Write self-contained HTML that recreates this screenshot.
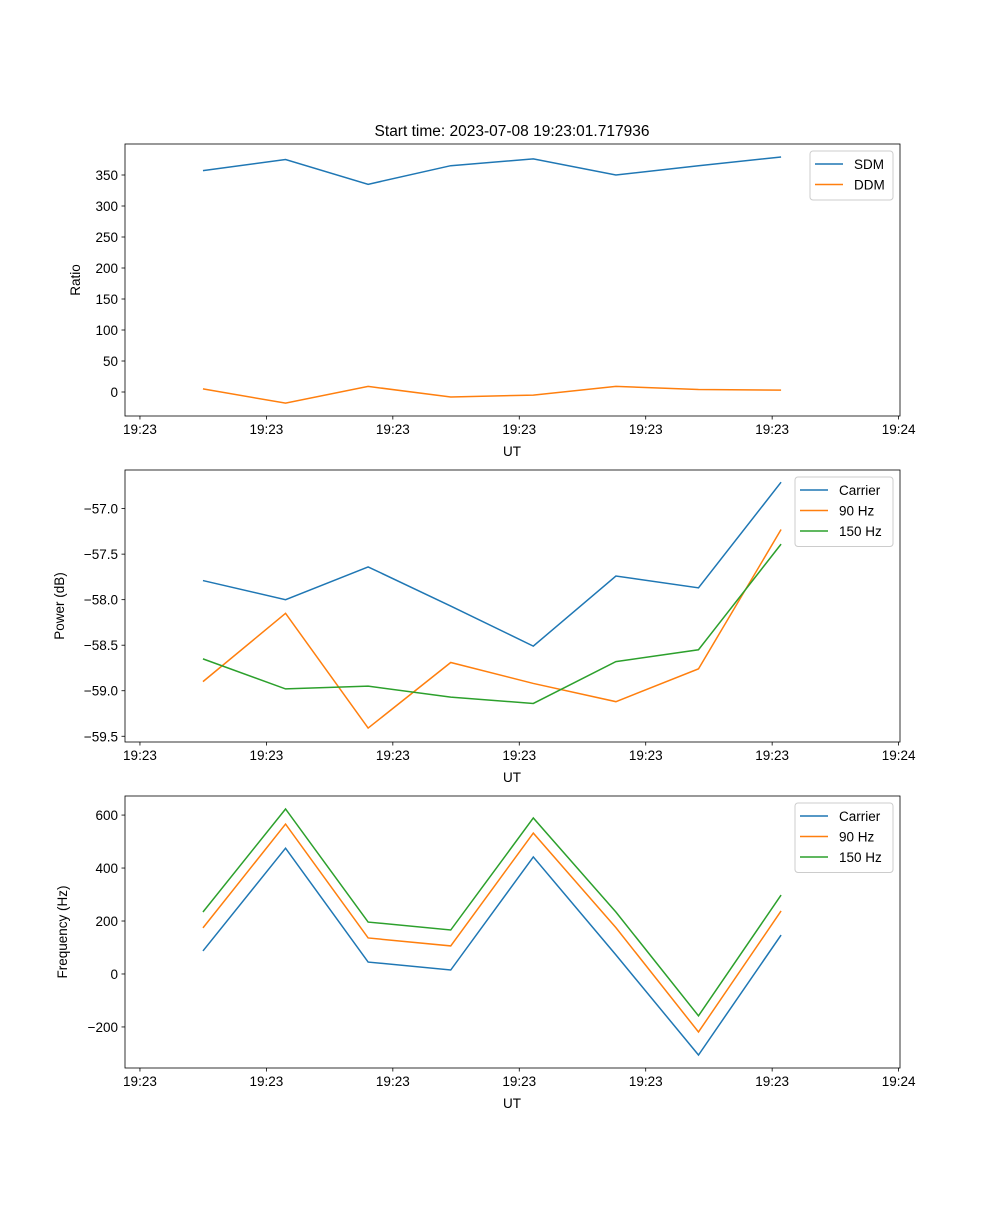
<!DOCTYPE html>
<html><head><meta charset="utf-8"><style>
body{margin:0;background:#fff}
svg text{font-family:"Liberation Sans","DejaVu Sans",sans-serif;font-size:13.5px;fill:#000}
</style></head><body>
<svg id="fig" width="1000" height="1200" xmlns="http://www.w3.org/2000/svg">
<text x="512" y="136" text-anchor="middle" style="font-size:15.5px">Start time: 2023-07-08 19:23:01.717936</text>
</svg>
<script>
const xTicks = [-0.763, 0.768, 2.299, 3.83, 5.361, 6.892, 8.423];
const xTickLabels = ["19:23","19:23","19:23","19:23","19:23","19:23","19:24"];
const sdm = [357, 375, 335, 365, 376, 350, 365, 379];
const ddm = [5, -18, 9, -8, -5, 9, 4, 3];
const powCarrier = [-57.79, -58.00, -57.64, -58.07, -58.51, -57.74, -57.87, -56.71];
const pow90 = [-58.90, -58.15, -59.41, -58.69, -58.92, -59.12, -58.76, -57.23];
const pow150 = [-58.65, -58.98, -58.95, -59.07, -59.14, -58.68, -58.55, -57.39];
const frqCarrier = [87, 475, 45, 15, 442, 72, -306, 147];
const frq90 = [174, 566, 136, 106, 532, 175, -219, 238];
const frq150 = [234, 623, 196, 166, 589, 234, -158, 298];
const ratioTicks = [0,50,100,150,200,250,300,350];
const powTicks = [-59.5,-59.0,-58.5,-58.0,-57.5,-57.0];
const frqTicks = [-200,0,200,400,600];

const svg = document.getElementById('fig');
const NS = 'http://www.w3.org/2000/svg';
const C = ['#1f77b4','#ff7f0e','#2ca02c'];
function mk(tag, attrs, parent){const e=document.createElementNS(NS,tag);for(const k in attrs)e.setAttribute(k,attrs[k]);(parent||svg).appendChild(e);return e;}
const L=125,R=900,XMIN=-0.944,XMAX=8.44;
const xs = v => L + (v-XMIN)/(XMAX-XMIN)*(R-L);

function panel(idx, top, bot, ymin, ymax, yTicks, fmt, ylabel, ylabX, series, names, legW){
  const g = mk('g',{});
  
  
  const ys = v => bot - (v-ymin)/(ymax-ymin)*(bot-top);
  series.forEach((s,si)=>{
    const p = mk('polyline',{points:s.map((v,i)=>xs(i)+','+ys(v)).join(' '),fill:'none',stroke:C[si],'stroke-width':1.5},g);
    
    
  });
  const f = mk('rect',{x:L,y:top,width:R-L,height:bot-top,fill:'none',stroke:'#000','stroke-width':0.8},g);
  
  
  xTicks.forEach((t,i)=>{
    const x=xs(t);
    mk('line',{x1:x,x2:x,y1:bot,y2:bot+3.5,stroke:'#000','stroke-width':0.8},g);
    const tx=mk('text',{x:x,y:bot+18,'text-anchor':'middle'},g);tx.textContent=xTickLabels[i];
    
    
  });
  yTicks.forEach(t=>{
    const y=ys(t);
    mk('line',{x1:L-3.5,x2:L,y1:y,y2:y,stroke:'#000','stroke-width':0.8},g);
    const tx=mk('text',{x:L-7,y:y+5,'text-anchor':'end'},g);tx.textContent=fmt(t);
    
    
  });
  const xl=mk('text',{x:512,y:bot+40,'text-anchor':'middle'},g);xl.textContent='UT';
  
  
  const cy=(top+bot)/2;
  const yl=mk('text',{x:ylabX,y:cy,'text-anchor':'middle',transform:`rotate(-90 ${ylabX} ${cy})`},g);yl.textContent=ylabel;
  
  
  const lx=R-7-legW, ly=top+7, lh=8+names.length*20.5;
  const lg=mk('g',{},g);
  
  
  mk('rect',{x:lx,y:ly,width:legW,height:lh,rx:3,fill:'#fff','fill-opacity':0.8,stroke:'#ccc'},lg);
  names.forEach((n,i)=>{
    const yy=ly+13+i*20.5;
    mk('line',{x1:lx+5,x2:lx+33,y1:yy,y2:yy,stroke:C[i],'stroke-width':1.5},lg);
    const t=mk('text',{x:lx+44,y:yy+5},lg);t.textContent=n;
    
    
  });
}
const minus = s => s.replace('-','\u2212');
panel(1,144,416,-38.7,400,ratioTicks,t=>minus(String(t)),'Ratio',80,[sdm,ddm],['SDM','DDM'],83);
panel(2,470,742,-59.563,-56.576,powTicks,t=>minus(t.toFixed(1)),'Power (dB)',64,[powCarrier,pow90,pow150],['Carrier','90 Hz','150 Hz'],98);
panel(3,796,1068,-355,672,frqTicks,t=>minus(String(t)),'Frequency (Hz)',67,[frqCarrier,frq90,frq150],['Carrier','90 Hz','150 Hz'],98);
</script>
</body></html>
